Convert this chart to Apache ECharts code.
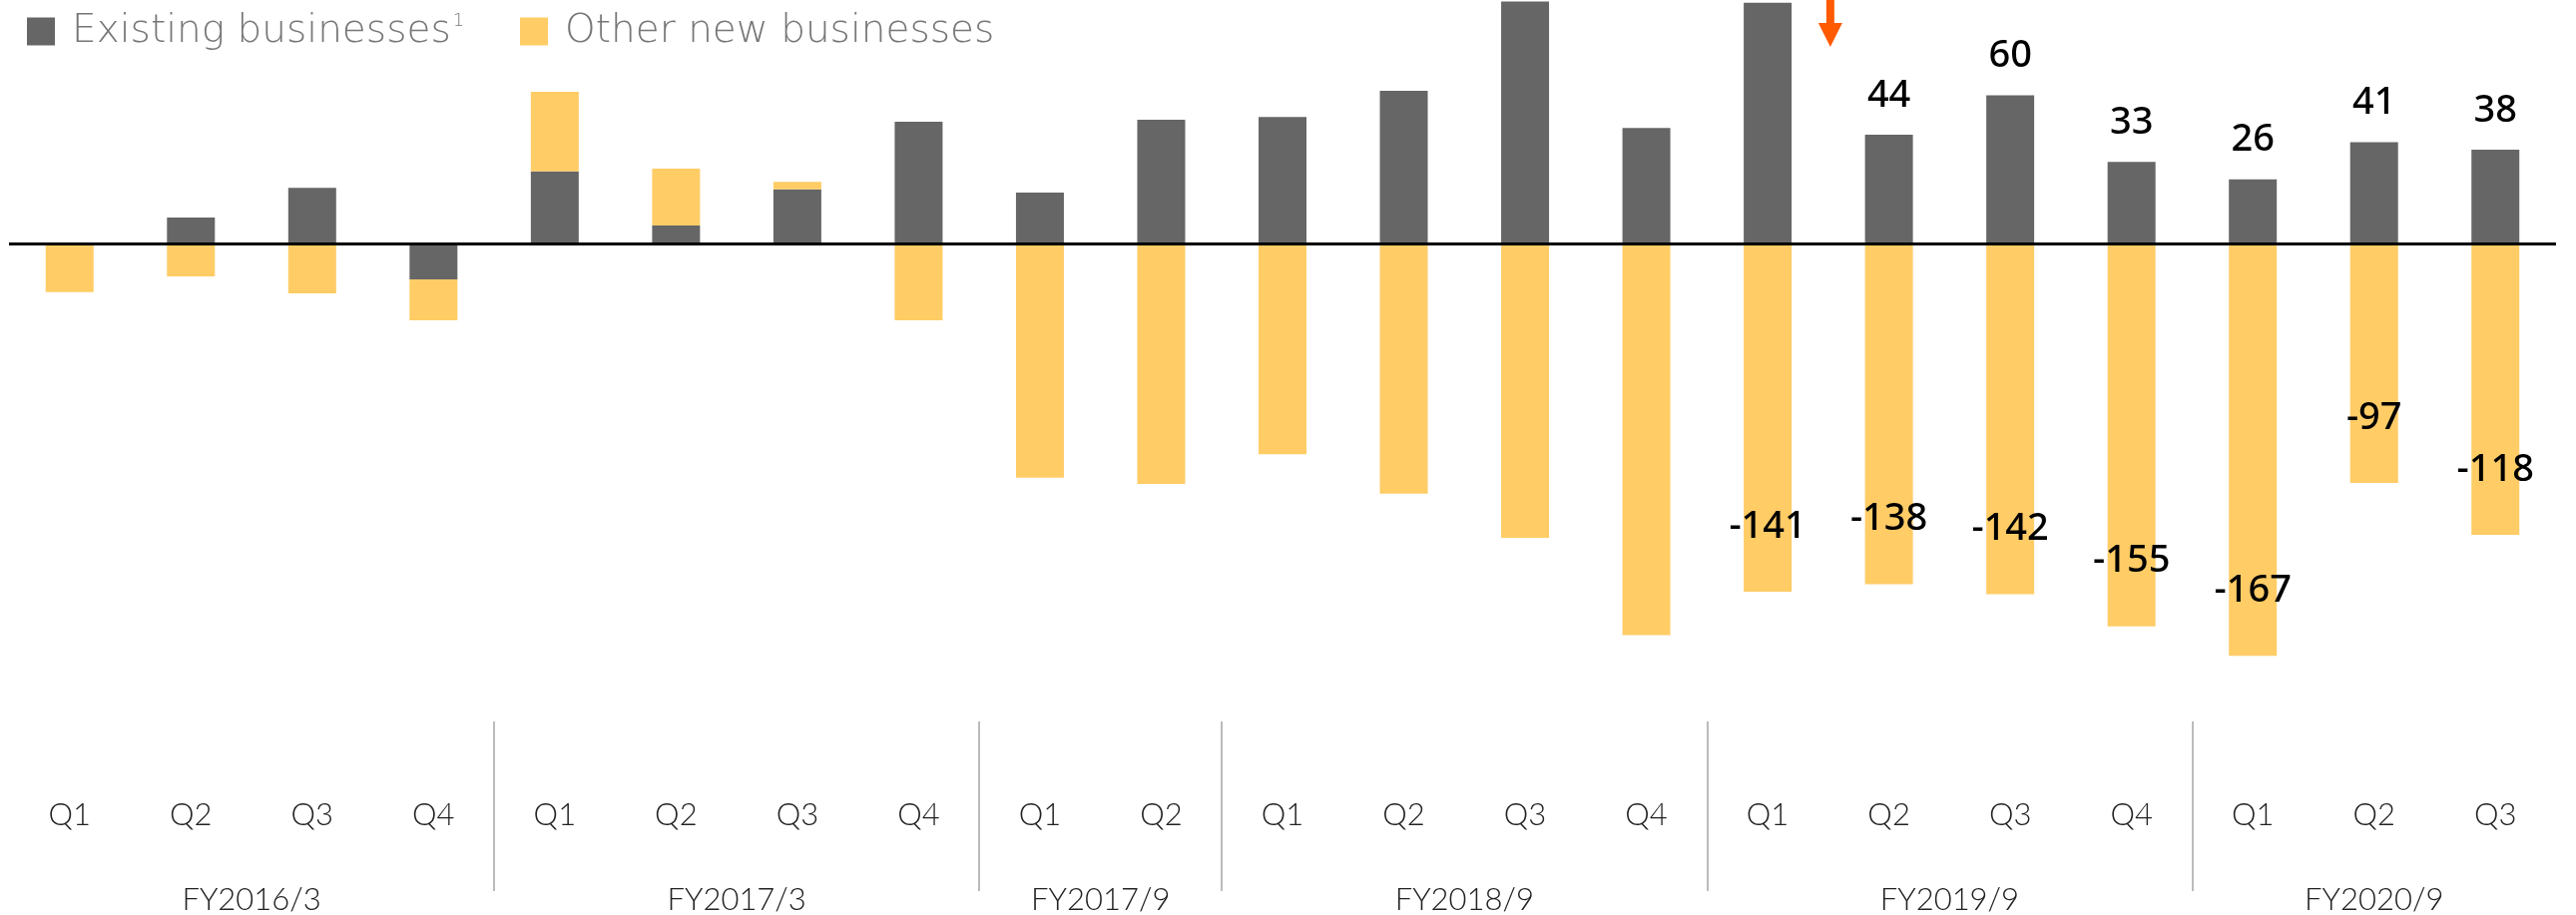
<!DOCTYPE html>
<html>
<head>
<meta charset="utf-8">
<script src="https://cdn.jsdelivr.net/npm/echarts@6/dist/echarts.min.js"></script>
<style>
  html, body { margin: 0; padding: 0; background: #fff; }
  #chart { width: 2581px; height: 917px; }
</style>
</head>
<body>
<div id="chart"></div>
<script>
// Quarterly operating income contribution (JPY bn)
const quarters = ['Q1','Q2','Q3','Q4','Q1','Q2','Q3','Q4','Q1','Q2','Q1','Q2','Q3','Q4','Q1','Q2','Q3','Q4','Q1','Q2','Q3'];
const fiscalYears = ['FY2016/3','FY2017/3','FY2017/9','FY2018/9','FY2019/9','FY2020/9'];
const fiscalYearSizes = [4, 4, 2, 4, 4, 3];

const existingBusinesses = [0, 10.5, 22.5, -14.5, 29.2, 7.3, 21.9, 49.3, 20.6, 50.1, 51.2, 61.8, 110, 46.8, 97.5, 44, 60, 33, 26, 41, 38];
const otherNewBusinesses = [-19.7, -13.3, -20.2, -16.6, 32.2, 23, 3, -31.1, -94.8, -97.4, -85.4, -101.3, -119.2, -158.6, -141, -138, -142, -155, -167, -97, -118];

// which quarters carry a printed value
const labelledExisting = [15, 16, 17, 18, 19, 20];
const labelledOther = [14, 15, 16, 17, 18, 19, 20];

const GREY = '#666666';
const YELLOW = '#FFCC66';
const ARROW = '#FF5A00';
const LEGEND_FONT = 'DejaVu Sans';
const AXIS_FONT = 'Lato';

// group boundaries (quarter index where a new fiscal year starts) and group centres
const boundaries = [];
const centres = {};
let acc = 0;
fiscalYearSizes.forEach((n, i) => {
  centres[(acc + n / 2).toFixed(1)] = fiscalYears[i];
  acc += n;
  if (i < fiscalYearSizes.length - 1) boundaries.push(acc);
});

const valueLabel = {
  show: true,
  fontFamily: 'Noto Sans',
  fontSize: 38,
  fontWeight: 500,
  color: '#000',
  formatter: p => String(Math.round(p.value))
};

const chart = echarts.init(document.getElementById('chart'), null, { renderer: 'canvas' });

const option = {
  animation: false,
  backgroundColor: '#fff',
  legend: [
    {
      data: ['Existing businesses'],
      left: 22, top: 7,
      icon: 'rect', itemWidth: 28, itemHeight: 28,
      formatter: () => '{t|Existing businesses}{s|1}',
      textStyle: {
        rich: {
          t: { fontFamily: LEGEND_FONT, fontWeight: 200, fontSize: 39, color: '#777', padding: [0, 0, 0, 12] },
          s: { fontFamily: LEGEND_FONT, fontWeight: 200, fontSize: 18, color: '#777', verticalAlign: 'top', padding: [0, 0, 16, 2] }
        }
      }
    },
    {
      data: ['Other new businesses'],
      left: 516, top: 7,
      icon: 'rect', itemWidth: 28, itemHeight: 28,
      textStyle: { fontFamily: LEGEND_FONT, fontWeight: 200, fontSize: 39, color: '#777', padding: [0, 0, 0, 12] }
    }
  ],
  grid: [
    { left: 9, width: 2552, top: 1.45, height: 688.05, outerBoundsMode: 'none' },
    { left: 9, width: 2552, top: 700, height: 200, outerBoundsMode: 'none' }
  ],
  xAxis: [
    {
      type: 'category', gridIndex: 0, data: quarters,
      axisLine: { show: false, onZero: false },
      axisTick: { show: false },
      axisLabel: { margin: 112, fontFamily: AXIS_FONT, fontWeight: 300, fontSize: 31, color: '#222' },
      splitLine: { show: false }
    },
    {
      // fiscal-year names centred under each group of quarters
      type: 'value', gridIndex: 1, min: 0, max: quarters.length, interval: 0.5,
      position: 'bottom',
      axisLine: { show: false }, axisTick: { show: false }, splitLine: { show: false },
      axisLabel: {
        margin: -14, fontFamily: AXIS_FONT, fontWeight: 300, fontSize: 31, color: '#222',
        showMinLabel: true, showMaxLabel: true, hideOverlap: false,
        formatter: v => centres[Number(v).toFixed(1)] || ''
      }
    }
  ],
  yAxis: [
    { type: 'value', gridIndex: 0, min: -180, max: 98, show: false },
    { type: 'value', gridIndex: 1, min: 0, max: 200, inverse: true, show: false }
  ],
  series: [
    {
      name: 'Existing businesses', type: 'bar', stack: 'total',
      xAxisIndex: 0, yAxisIndex: 0, barWidth: 48,
      itemStyle: { color: GREY },
      data: existingBusinesses.map((v, i) => labelledExisting.includes(i)
        ? { value: v, label: Object.assign({ position: 'top', distance: 20 }, valueLabel) }
        : v),
      // zero baseline
      markLine: {
        silent: true, symbol: 'none', animation: false, z: 10,
        label: { show: false },
        lineStyle: { color: '#000', width: 3, type: 'solid' },
        data: [{ yAxis: 0 }]
      }
    },
    {
      name: 'Other new businesses', type: 'bar', stack: 'total',
      xAxisIndex: 0, yAxisIndex: 0, barWidth: 48,
      itemStyle: { color: YELLOW },
      data: otherNewBusinesses.map((v, i) => labelledOther.includes(i)
        ? { value: v, label: Object.assign({ position: 'insideBottom', distance: 46 }, valueLabel) }
        : v)
    },
    {
      // vertical separators between fiscal years
      name: 'separators', type: 'line', xAxisIndex: 1, yAxisIndex: 1,
      data: [], silent: true,
      markLine: {
        silent: true, symbol: 'none', animation: false,
        label: { show: false },
        lineStyle: { color: '#bbb', width: 2, type: 'solid' },
        data: boundaries.map(b => [{ coord: [b, 23] }, { coord: [b, 193] }])
      }
    }
  ]
};

chart.setOption(option);

// downward marker between FY2019/9 Q1 and Q2
const xa = chart.convertToPixel({ xAxisIndex: 0 }, 14);
const xb = chart.convertToPixel({ xAxisIndex: 0 }, 15);
const ax = (xa + xb) / 2 + 2;
chart.setOption({
  graphic: [
    { type: 'rect', shape: { x: ax - 4, y: 0, width: 8, height: 24 }, style: { fill: ARROW } },
    { type: 'polygon', shape: { points: [[ax - 12, 23], [ax + 12, 23], [ax, 47]] }, style: { fill: ARROW } }
  ]
});
</script>
</body>
</html>
